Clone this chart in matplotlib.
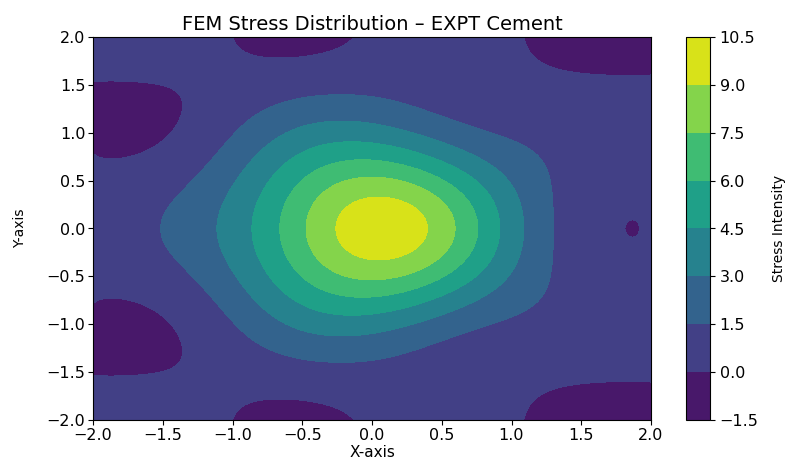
import numpy as np
import matplotlib
matplotlib.use("Agg")
import matplotlib.pyplot as plt

# grid and field parameters (peak + ripple)
x = np.linspace(-2, 2, 400)
y = np.linspace(-2, 2, 400)
peak_height = 10.0
ripple_amp = 0.5
ripple_freq = 3.0
levels = np.arange(-1.5, 10.51, 1.5)

X, Y = np.meshgrid(x, y)
Z = peak_height * np.exp(-(X**2 + Y**2)) + ripple_amp * np.sin(ripple_freq * X) * np.cos(ripple_freq * Y)

fig = plt.figure(figsize=(7.9, 4.61), dpi=100)
ax = fig.add_axes([93 / 790, 41 / 461, 558 / 790, 383 / 461])
cax = fig.add_axes([686 / 790, 41 / 461, 24 / 790, 383 / 461])

cf = ax.contourf(X, Y, Z, levels=levels, cmap="viridis")
cb = fig.colorbar(cf, cax=cax)
cb.set_label("Stress Intensity", fontsize=10)
cb.ax.yaxis.set_label_coords(3.6, 0.5)
cb.ax.tick_params(labelsize=11.5)

ax.set_title("FEM Stress Distribution \u2013 EXPT Cement", fontsize=14, pad=5)
ax.set_xlabel("X-axis", fontsize=11)
ax.set_ylabel("Y-axis", fontsize=10)
ax.xaxis.set_label_coords(0.5, -0.066)
ax.yaxis.set_label_coords(-0.118, 0.5)
ax.set_xticks(np.arange(-2, 2.01, 0.5))
ax.set_yticks(np.arange(-2, 2.01, 0.5))
ax.tick_params(labelsize=11.5, pad=2)

fig.savefig("out.png", dpi=100)
